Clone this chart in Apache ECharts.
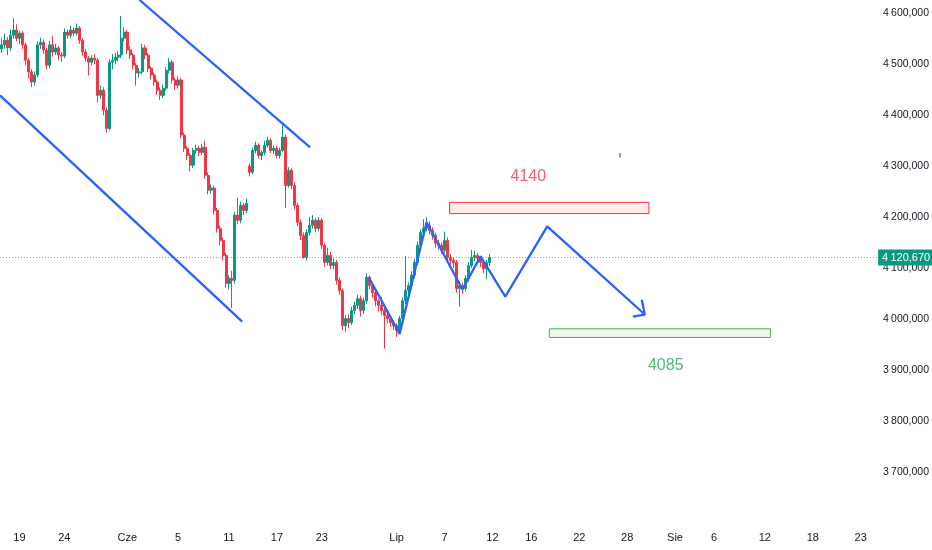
<!DOCTYPE html>
<html>
<head>
<meta charset="utf-8">
<script src="https://cdn.jsdelivr.net/npm/echarts@6/dist/echarts.min.js"></script>
<style>
  html, body { margin: 0; padding: 0; background: #fff; }
  #chart { width: 932px; height: 550px; }
</style>
</head>
<body>
<div id="chart"></div>
<script>
// candles (open / close / low / high)
var opens = [4530,4538,4547,4532,4557,4567,4551,4561,4538,4508,4485,4465,4479,4538,4543,4528,4498,4538,4524,4532,
  4518,4516,4563,4557,4567,4561,4571,4547,4524,4512,4504,4512,4508,4439,4449,4410,4374,4504,4508,4514,
  4518,4551,4563,4528,4518,4498,4483,4485,4532,4518,4492,4479,4465,4449,4439,4453,4488,4504,4469,4459,
  4469,4361,4335,4321,4302,4331,4335,4327,4337,4282,4253,4257,4213,4178,4154,4125,4070,4080,4076,4204,
  4194,4223,4213,4300,4288,4331,4341,4321,4327,4341,4351,4331,4335,4321,4331,4357,4262,4292,4262,4223,
  4190,4164,4121,4170,4184,4194,4178,4194,4145,4111,4125,4105,4111,4076,4056,3987,4001,3993,4017,4027,
  4040,4017,4036,4082,4066,4052,4036,4027,4017,4007,4001,3993,3987,3978,4001,4036,4056,4066,4086,4111,
  4145,4170,4178,4184,4174,4164,4149,4145,4135,4154,4121,4115,4111,4060,4066,4060,4080,4105,4121,4125,
  4119,4111,4099,4111];
var closes = [4538,4547,4532,4557,4567,4551,4561,4538,4508,4485,4465,4479,4538,4543,4528,4498,4538,4524,4532,4518,
  4516,4563,4557,4567,4561,4571,4547,4524,4512,4504,4512,4508,4439,4449,4410,4374,4504,4508,4514,4518,
  4551,4563,4528,4518,4498,4483,4485,4532,4518,4492,4479,4465,4449,4439,4453,4488,4504,4469,4459,4469,
  4361,4335,4321,4302,4331,4335,4327,4337,4282,4253,4257,4213,4178,4154,4125,4070,4080,4076,4204,4194,
  4223,4213,4227,4288,4331,4341,4321,4327,4341,4351,4331,4335,4321,4331,4357,4262,4292,4262,4223,4190,
  4164,4121,4170,4184,4194,4178,4194,4145,4111,4125,4105,4111,4076,4056,3987,4001,3993,4017,4027,4040,
  4017,4036,4082,4066,4052,4036,4027,4017,4007,4001,3993,3987,3978,4001,4036,4056,4066,4086,4111,4145,
  4170,4178,4184,4174,4164,4149,4145,4135,4154,4121,4115,4111,4060,4066,4060,4080,4105,4121,4125,4119,
  4111,4099,4111,4120.67];
var lows = [4522,4530,4518,4526,4550,4545,4540,4530,4498,4472,4455,4458,4474,4530,4520,4490,4492,4515,4518,4508,
  4505,4512,4550,4552,4555,4556,4540,4516,4506,4478,4498,4500,4425,4432,4400,4366,4370,4490,4500,4506,
  4512,4545,4520,4510,4490,4458,4474,4480,4510,4485,4470,4458,4440,4430,4434,4448,4482,4462,4450,4452,
  4355,4328,4312,4290,4296,4325,4320,4322,4275,4245,4246,4205,4170,4145,4115,4062,4058,4022,4070,4186,
  4188,4204,4208,4280,4284,4325,4315,4312,4322,4336,4326,4324,4316,4315,4328,4218,4258,4255,4215,4182,
  4155,4118,4115,4164,4178,4170,4172,4138,4103,4105,4098,4098,4068,4048,3978,3975,3982,3988,4010,4020,
  4005,4010,4030,4058,4042,4025,4015,4008,3942,3992,3985,3978,3965,3972,3996,4030,4048,4060,4080,4106,
  4140,4162,4172,4166,4156,4140,4136,4128,4130,4114,4106,4100,4052,4024,4050,4054,4074,4100,4114,4110,
  4102,4090,4078,4104];
var highs = [4552,4560,4553,4568,4590,4578,4566,4565,4542,4512,4490,4486,4545,4552,4549,4532,4546,4555,4540,4536,
  4524,4570,4568,4576,4572,4580,4575,4551,4530,4516,4518,4520,4512,4458,4455,4416,4510,4520,4522,4526,
  4595,4572,4568,4535,4522,4502,4492,4540,4538,4522,4496,4484,4470,4455,4460,4494,4512,4508,4474,4476,
  4474,4366,4340,4326,4336,4342,4340,4344,4350,4288,4264,4262,4218,4184,4160,4130,4086,4095,4210,4238,
  4230,4228,4236,4305,4336,4348,4345,4332,4350,4358,4355,4341,4340,4336,4382,4362,4298,4296,4268,4228,
  4196,4170,4176,4200,4204,4198,4200,4198,4150,4140,4132,4118,4116,4082,4060,4008,4010,4024,4034,4048,
  4046,4042,4090,4086,4070,4058,4040,4044,4022,4012,4006,3998,3992,4006,4042,4124,4072,4094,4118,4152,
  4176,4196,4200,4192,4180,4170,4156,4150,4172,4160,4128,4120,4116,4074,4072,4086,4112,4136,4134,4130,
  4124,4116,4116,4128];

var lastPrice = 4120.67;
var totalSlots = 293;   // bars incl. empty future space

// time axis labels (bar index -> text)
var tickIdx = [6, 21, 42, 59, 76, 92, 107, 132, 148, 164, 177, 193, 209, 225, 238, 255, 271, 287];
var tickText = ['19', '24', 'Cze', '5', '11', '17', '23', 'Lip', '7', '12', '16', '22', '28', 'Sie', '6', '12', '18', '23'];

// drawings, in [bar index, price]
var channelTop = [[46.1, 4626], [103.1, 4337]];
var channelBottom = [[-0.5, 4439], [80.4, 3995]];
var zigzag = [[122.7, 4082], [133.0, 3971], [142.0, 4190], [154.0, 4058], [160.0, 4123], [168.3, 4044], [182.3, 4182], [214.9, 4009]];
var arrowHead = [[213.9, 4038], [214.9, 4009], [210.9, 4005]];
var redZone = [[149.7, 4229], [216.3, 4207]];
var greenZone = [[183.0, 3981], [256.9, 3964]];
var strayMark = [[206.6, 4326], [206.6, 4317]];
var notes = [[176.0, 4280, '4140', '#F23645'], [221.9, 3909, '4085', '#22A55E']];

var cats = [];
var tickMap = {};
for (var i = 0; i < totalSlots; i++) cats.push(String(i));
tickIdx.forEach(function (k, j) { tickMap[k] = tickText[j]; });

var candles = opens.map(function (o, k) { return [o, closes[k], lows[k], highs[k]]; });

var FONT = "'Liberation Sans Narrow', 'Liberation Sans', 'Roboto', sans-serif";
var BLUE = '#2962FF';

function priceLabel(v) {
  var n = Math.round(v);
  return Math.floor(n / 1000) + '\u2009' + String(n % 1000).padStart(3, '0') + ',000';
}

function blueLine(pts) {
  return {
    type: 'line', xAxisIndex: 1, data: pts, symbol: 'none', silent: true,
    lineStyle: { color: BLUE, width: 2.3 }, z: 5
  };
}

var myChart = echarts.init(document.getElementById('chart'));
var option = {
  animation: false,
  backgroundColor: '#ffffff',
  grid: { left: 0, right: 42, top: 0, bottom: 27 },
  xAxis: [{
    type: 'category',
    data: cats,
    boundaryGap: true,
    axisLine: { show: false },
    axisTick: { show: false },
    splitLine: { show: false },
    axisLabel: {
      interval: function (idx) { return tickMap[idx] !== undefined; },
      formatter: function (v, idx) { return tickMap[idx] || ''; },
      color: '#131722', fontSize: 11, fontFamily: FONT, margin: 9
    }
  }, {
    type: 'value', min: -0.5, max: totalSlots - 0.5, show: false
  }],
  yAxis: {
    type: 'value',
    position: 'right',
    min: 3600, max: 4626, interval: 100,
    axisLine: { show: false },
    axisTick: { show: false },
    splitLine: { show: false },
    axisLabel: {
      showMinLabel: false, showMaxLabel: false,
      formatter: priceLabel,
      color: '#131722', fontSize: 10.5, fontFamily: FONT, margin: 6
    }
  },
  series: [{
    type: 'candlestick',
    data: candles,
    barWidth: 2.5,
    itemStyle: {
      color: '#089981', color0: '#F23645',
      borderColor: '#089981', borderColor0: '#F23645', borderWidth: 1
    },
    markLine: {
      silent: true, symbol: 'none',
      data: [{ yAxis: lastPrice }],
      lineStyle: { type: [1, 2], color: 'rgba(8,153,129,0.65)', width: 1 },
      label: {
        position: 'end', distance: 1,
        formatter: '4\u2009120,670',
        backgroundColor: '#089981', color: '#ffffff',
        fontSize: 11, fontFamily: FONT, padding: [3, 4, 2, 4]
      },
      z: 10
    }
  },
  blueLine(channelTop),
  blueLine(channelBottom),
  blueLine(zigzag),
  blueLine(arrowHead),
  {
    type: 'line', xAxisIndex: 1, data: strayMark, symbol: 'none', silent: true,
    lineStyle: { color: '#555a66', width: 1.2 }
  },
  {
    type: 'scatter', xAxisIndex: 1, symbolSize: 0, silent: true,
    data: [],
    markArea: {
      silent: true,
      data: [
        [{ coord: redZone[0], itemStyle: { color: 'rgba(242,54,69,0.10)', borderColor: '#F23645', borderWidth: 1 } }, { coord: redZone[1] }],
        [{ coord: greenZone[0], itemStyle: { color: 'rgba(76,175,80,0.10)', borderColor: '#4CAF50', borderWidth: 1 } }, { coord: greenZone[1] }]
      ]
    }
  },
  {
    type: 'scatter', xAxisIndex: 1, symbolSize: 1, silent: true,
    itemStyle: { color: 'rgba(0,0,0,0)' },
    data: notes.map(function (n) {
      return {
        value: [n[0], n[1]],
        label: { show: true, position: 'inside', formatter: n[2], color: n[3], fontSize: 16, fontFamily: FONT }
      };
    })
  }]
};

myChart.setOption(option);
</script>
</body>
</html>
